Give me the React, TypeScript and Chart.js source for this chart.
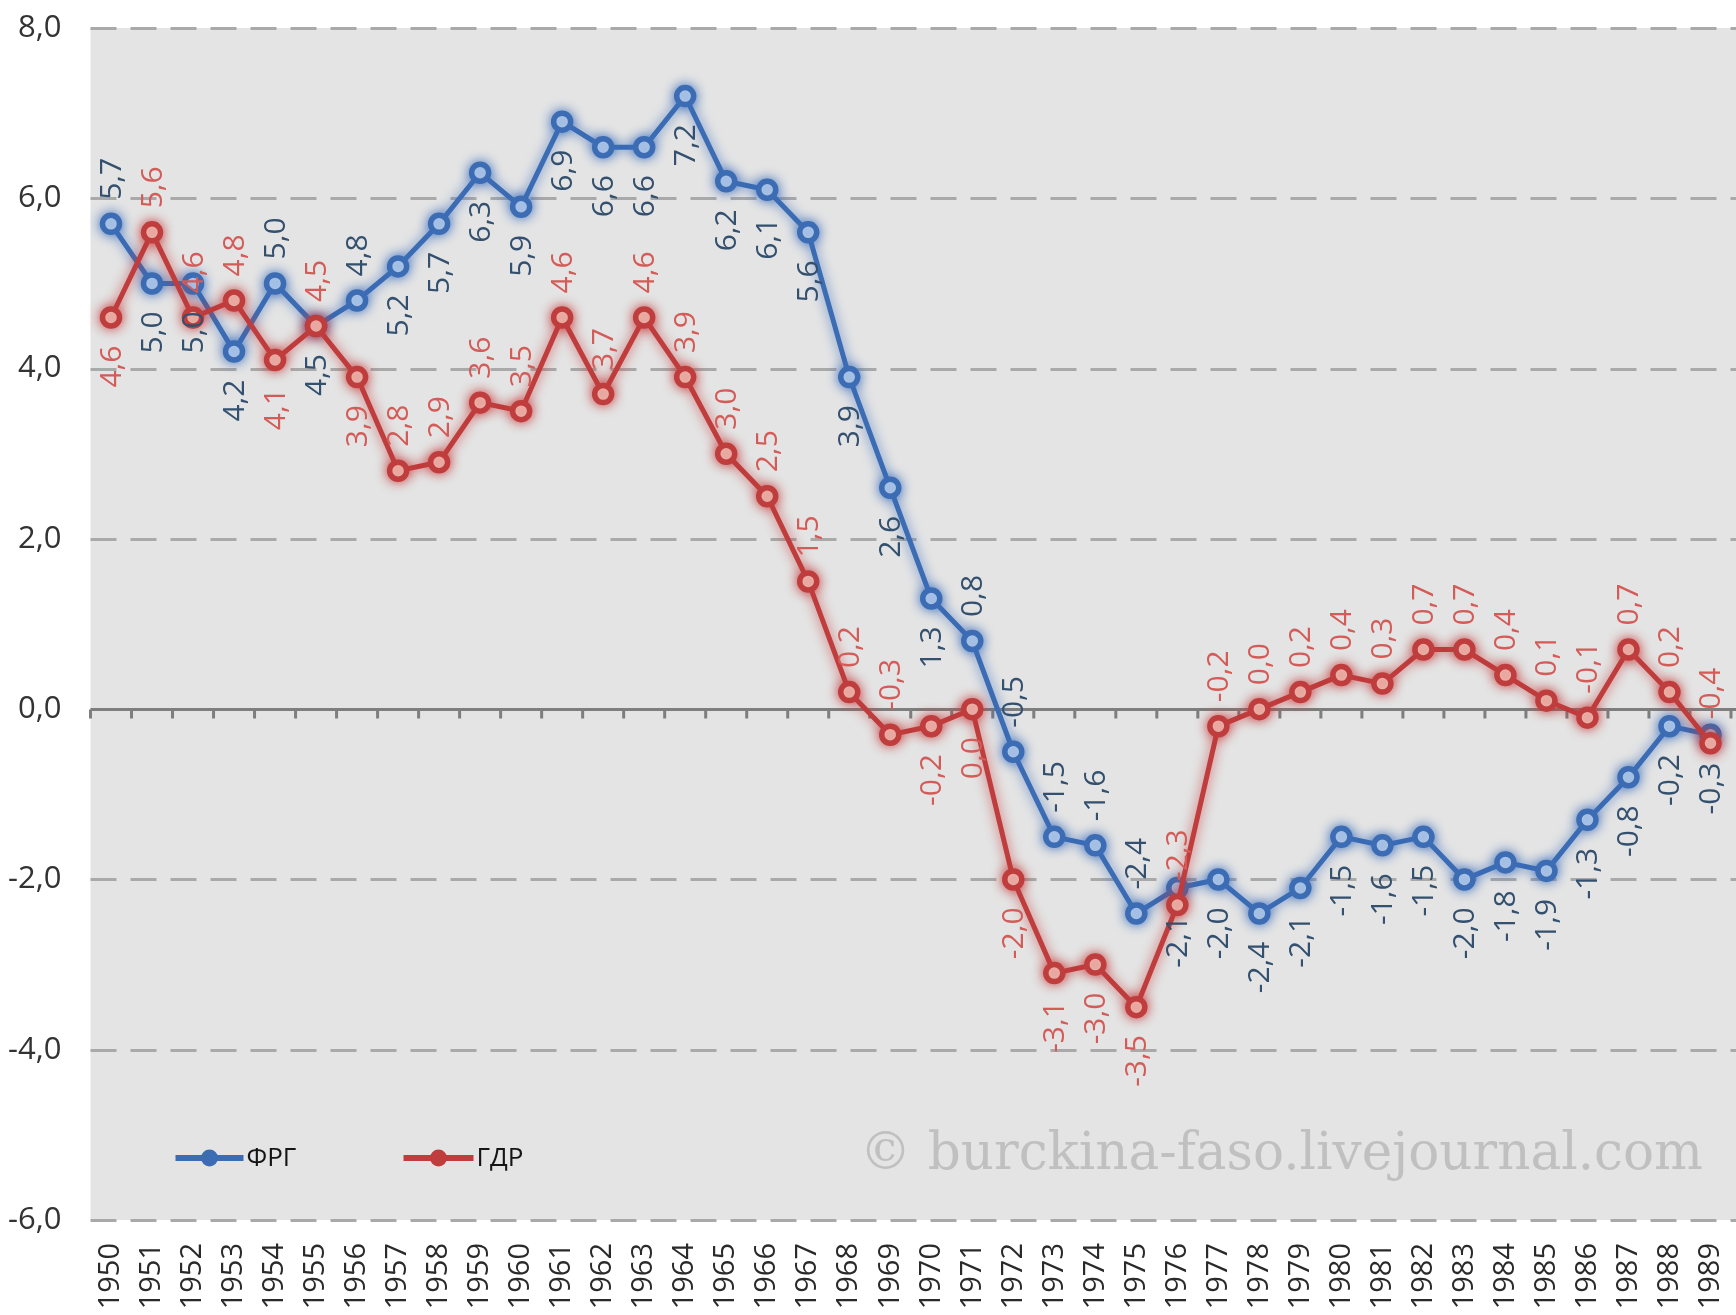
import React, { useEffect, useRef } from "react";
import { Chart, registerables } from "chart.js";

Chart.register(...registerables);

const years = [
  "1950","1951","1952","1953","1954","1955","1956","1957","1958","1959",
  "1960","1961","1962","1963","1964","1965","1966","1967","1968","1969",
  "1970","1971","1972","1973","1974","1975","1976","1977","1978","1979",
  "1980","1981","1982","1983","1984","1985","1986","1987","1988","1989",
];

const frgValues = [
  5.7, 5.0, 5.0, 4.2, 5.0, 4.5, 4.8, 5.2, 5.7, 6.3,
  5.9, 6.9, 6.6, 6.6, 7.2, 6.2, 6.1, 5.6, 3.9, 2.6,
  1.3, 0.8, -0.5, -1.5, -1.6, -2.4, -2.1, -2.0, -2.4, -2.1,
  -1.5, -1.6, -1.5, -2.0, -1.8, -1.9, -1.3, -0.8, -0.2, -0.3,
];

const gdrValues = [
  4.6, 5.6, 4.6, 4.8, 4.1, 4.5, 3.9, 2.8, 2.9, 3.6,
  3.5, 4.6, 3.7, 4.6, 3.9, 3.0, 2.5, 1.5, 0.2, -0.3,
  -0.2, 0.0, -2.0, -3.1, -3.0, -3.5, -2.3, -0.2, 0.0, 0.2,
  0.4, 0.3, 0.7, 0.7, 0.4, 0.1, -0.1, 0.7, 0.2, -0.4,
];

// label placement: "a" = above the point, "b" = below
const frgLabelSide = [
  "a","b","b","b","a","b","a","b","b","b",
  "b","b","b","b","b","b","b","b","b","b",
  "b","a","a","a","a","a","b","b","b","b",
  "b","b","b","b","b","b","b","b","b","b",
];
const gdrLabelSide = [
  "b","a","a","a","b","a","b","a","a","a",
  "a","a","a","a","a","a","a","a","a","a",
  "b","b","b","b","b","b","a","a","a","a",
  "a","a","a","a","a","a","a","a","a","a",
];

const seriesNames = ["ФРГ", "ГДР"];
const yTickValues = [8, 6, 4, 2, 0, -2, -4, -6];
const watermark = "© burckina-faso.livejournal.com";

const BLUE = "#3b6cb4";
const RED = "#bf3d3d";
const FONT = "'Open Sans', 'DejaVu Sans', sans-serif";

const fmt = (v: number) => {
  const s = Math.abs(v).toFixed(1).replace(".", ",");
  return (v < 0 ? "-" : "") + s;
};

const backgroundPlugin = {
  id: "bgGrid",
  beforeDatasetsDraw(chart: any) {
    const { ctx, chartArea: a, scales } = chart;
    const y = scales.y;
    const x = scales.x;
    ctx.save();
    ctx.fillStyle = "#e4e4e4";
    const top = y.getPixelForValue(8);
    const bottom = y.getPixelForValue(-6);
    ctx.fillRect(a.left, top, a.right - a.left + 10, bottom - top);

    // watermark
    ctx.fillStyle = "#c0c0c0";
    const wmFamily = `'DejaVu Serif', 'Liberation Serif', serif`;
    ctx.font = `50px ${wmFamily}`;
    const w = ctx.measureText(watermark).width;
    const size = (50 * 843) / w;
    ctx.font = `${size.toFixed(1)}px ${wmFamily}`;
    ctx.textAlign = "right";
    ctx.textBaseline = "alphabetic";
    ctx.fillText(watermark, a.right - 28, y.getPixelForValue(-5.4));

    // dashed gridlines
    ctx.strokeStyle = "#a9a9a9";
    ctx.lineWidth = 3;
    ctx.setLineDash([26, 14]);
    for (const v of yTickValues) {
      if (v === 0) continue;
      const py = Math.round(y.getPixelForValue(v)) + 0.5;
      ctx.beginPath();
      ctx.moveTo(a.left, py);
      ctx.lineTo(a.right + 10, py);
      ctx.stroke();
    }
    ctx.setLineDash([]);

    // zero axis line with ticks
    const y0 = Math.round(y.getPixelForValue(0)) + 0.5;
    ctx.strokeStyle = "#7e7e7e";
    ctx.lineWidth = 3;
    ctx.beginPath();
    ctx.moveTo(a.left, y0);
    ctx.lineTo(a.right + 10, y0);
    ctx.stroke();
    const p0 = x.getPixelForValue(0);
    const step = x.getPixelForValue(1) - p0;
    ctx.beginPath();
    for (let i = 0; i <= years.length; i++) {
      const bx = p0 - step / 2 + i * step;
      ctx.moveTo(bx, y0);
      ctx.lineTo(bx, y0 + 9);
    }
    ctx.stroke();
    ctx.restore();
  },
};

const glowPlugin = {
  id: "glow",
  beforeDatasetDraw(chart: any, args: any) {
    const ds = chart.data.datasets[args.index];
    chart.ctx.save();
    chart.ctx.shadowColor = ds.glowColor;
    chart.ctx.shadowBlur = 12;
  },
  afterDatasetDraw(chart: any) {
    chart.ctx.restore();
  },
};

const labelPlugin = {
  id: "valueLabels",
  afterDatasetsDraw(chart: any) {
    const { ctx } = chart;
    const sides = [frgLabelSide, gdrLabelSide];
    const colors = ["#33506f", "#d35c58"];
    ctx.save();
    ctx.font = `30px ${FONT}`;
    ctx.textBaseline = "middle";
    chart.data.datasets.forEach((ds: any, di: number) => {
      const meta = chart.getDatasetMeta(di);
      ctx.fillStyle = colors[di];
      meta.data.forEach((pt: any, i: number) => {
        const text = fmt(ds.data[i]);
        ctx.save();
        ctx.translate(pt.x, pt.y);
        ctx.rotate(-Math.PI / 2);
        if (sides[di][i] === "a") {
          ctx.textAlign = "left";
          ctx.fillText(text, 24, 1);
        } else {
          ctx.textAlign = "right";
          ctx.fillText(text, -28, 1);
        }
        ctx.restore();
      });
    });
    ctx.restore();
  },
  afterDraw(chart: any) {
    const { ctx, chartArea: a } = chart;
    const ly = a.bottom - 62;
    const items = [
      { x0: a.left + 85, x1: a.left + 153, color: BLUE, text: seriesNames[0] },
      { x0: a.left + 313, x1: a.left + 383, color: RED, text: seriesNames[1] },
    ];
    ctx.save();
    for (const it of items) {
      ctx.strokeStyle = it.color;
      ctx.lineWidth = 6;
      ctx.beginPath();
      ctx.moveTo(it.x0, ly);
      ctx.lineTo(it.x1, ly);
      ctx.stroke();
      ctx.fillStyle = it.color;
      ctx.beginPath();
      ctx.arc((it.x0 + it.x1) / 2, ly, 8.5, 0, Math.PI * 2);
      ctx.fill();
      ctx.fillStyle = "#151515";
      ctx.font = `26px ${FONT}`;
      ctx.textAlign = "left";
      ctx.textBaseline = "middle";
      ctx.fillText(it.text, it.x1 + 3, ly + 1);
    }
    ctx.restore();
  },
};

export default function App() {
  const ref = useRef<HTMLCanvasElement | null>(null);

  useEffect(() => {
    if (!ref.current) return;
    const chart = new Chart(ref.current, {
      type: "line",
      data: {
        labels: years,
        datasets: [
          {
            label: seriesNames[0],
            data: frgValues,
            borderColor: BLUE,
            borderWidth: 5,
            pointRadius: 8.5,
            pointBorderWidth: 5.5,
            pointBackgroundColor: "#eef8ff",
            pointBorderColor: BLUE,
            tension: 0,
            order: 2,
            glowColor: "rgba(60,110,190,0.85)",
          } as any,
          {
            label: seriesNames[1],
            data: gdrValues,
            borderColor: RED,
            borderWidth: 5,
            pointRadius: 8.5,
            pointBorderWidth: 5.5,
            pointBackgroundColor: "#fff5e8",
            pointBorderColor: RED,
            tension: 0,
            order: 1,
            glowColor: "rgba(200,60,60,0.85)",
          } as any,
        ],
      },
      options: {
        animation: false,
        responsive: false,
        maintainAspectRatio: false,
        devicePixelRatio: 1,
        layout: { padding: { top: 28, left: 0, right: 6.5, bottom: 0 } },
        plugins: {
          legend: { display: false },
          tooltip: { enabled: false },
          title: { display: false },
        },
        scales: {
          x: {
            type: "category",
            offset: true,
            grid: { display: false, drawTicks: false },
            border: { display: false },
            ticks: {
              autoSkip: false,
              minRotation: 90,
              maxRotation: 90,
              padding: 23,
              color: "#2a2a2a",
              font: { family: FONT, size: 29 },
            },
            afterFit(scale: any) {
              scale.height = 95;
              scale.paddingLeft = 0;
              scale.paddingRight = 0;
            },
          },
          y: {
            min: -6,
            max: 8,
            grid: { display: false, drawTicks: false },
            border: { display: false },
            ticks: {
              stepSize: 2,
              padding: 29,
              color: "#333333",
              font: { family: FONT, size: 31 },
              callback: (v: any) => fmt(Number(v)),
            },
            afterFit(scale: any) {
              scale.width = 90.5;
              scale.paddingTop = 0;
              scale.paddingBottom = 0;
            },
          },
        },
      },
      plugins: [backgroundPlugin, glowPlugin, labelPlugin],
    });
    return () => chart.destroy();
  }, []);

  return (
    <div
      style={{
        position: "absolute",
        left: 0,
        top: 0,
        width: 1736,
        height: 1315,
        overflow: "hidden",
        background: "#ffffff",
      }}
    >
      <canvas
        ref={ref}
        width={1745}
        height={1315}
        style={{ width: 1745, height: 1315, display: "block" }}
      />
    </div>
  );
}
